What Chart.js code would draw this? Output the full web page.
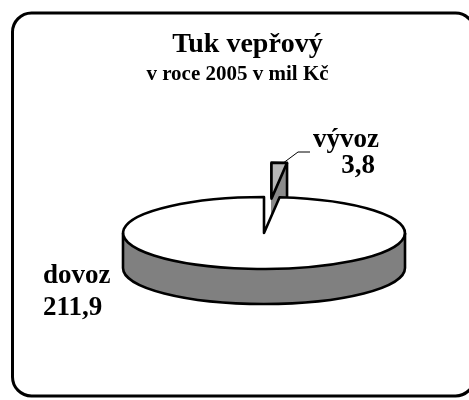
<!DOCTYPE html>
<html>
<head>
<meta charset="utf-8">
<script src="https://cdn.jsdelivr.net/npm/chart.js@4/dist/chart.umd.min.js"></script>
<style>
body { margin: 0; background: #fff; }
</style>
</head>
<body>
<canvas id="myChart" width="469" height="400"></canvas>
<script>
let categories = ["vývoz", "dovoz"];
let values = [3.8, 211.9];
let titleText = "Tuk vepřový";
let subtitleText = "v roce 2005 v mil Kč";

function fmt(v){
	return v.toFixed(1).replace(".", ",");
}

// elliptical wedge, angles come from the arc chart.js computed
function wedge(ctx, cx, cy, r, k, a0, a1){
	ctx.beginPath();
	ctx.moveTo(cx, cy);
	ctx.ellipse(cx, cy, r, r * k, 0, a0, a1);
	ctx.closePath();
}

const pie3d = {
	id: "pie3d",
	beforeDraw(chart){
		const ctx = chart.ctx;
		ctx.save();
		ctx.fillStyle = "#fff";
		ctx.fillRect(0, 0, chart.width, chart.height);
		ctx.lineWidth = 3;
		ctx.strokeStyle = "#000";
		ctx.beginPath();
		ctx.roundRect(12.5, 13, 462, 383, 19);
		ctx.stroke();
		ctx.restore();
	},
	beforeDatasetsDraw(chart, args, opts){
		const ctx = chart.ctx;
		const meta = chart.getDatasetMeta(0);
		const ds = chart.data.datasets[0];
		const k = opts.tilt, depth = opts.depth;
		ctx.save();
		ctx.lineJoin = "round";
		ctx.strokeStyle = "#000";
		ctx.lineWidth = opts.lineWidth;
		meta.data.forEach((arc, i) => {
			const mid = (arc.startAngle + arc.endAngle) / 2;
			const off = opts.explode[i] || 0;
			const cx = arc.x + Math.cos(mid) * off;
			const cy = arc.y + Math.sin(mid) * off * k;
			const r = arc.outerRadius;
			// side of the slice
			ctx.fillStyle = opts.sideColor[i];
			for(let d = depth; d > 0; d--){
				wedge(ctx, cx, cy + d, r, k, arc.startAngle, arc.endAngle);
				ctx.fill();
			}
			let edges = [];
			[0, 2 * Math.PI, -2 * Math.PI].forEach(s => {
				const f0 = Math.max(arc.startAngle, s), f1 = Math.min(arc.endAngle, s + Math.PI);
				if(f1 > f0){
					ctx.beginPath();
					ctx.ellipse(cx, cy + depth, r, r * k, 0, f0, f1);
					ctx.stroke();
					edges.push(f0, f1);
				}
			});
			if(off > 0) edges.push(arc.startAngle, arc.endAngle);
			edges.forEach(a => {
				const px = cx + Math.cos(a) * r, py = cy + Math.sin(a) * r * k;
				ctx.beginPath();
				ctx.moveTo(px, py);
				ctx.lineTo(px, py + depth);
				ctx.stroke();
			});
			// top face
			wedge(ctx, cx, cy, r, k, arc.startAngle, arc.endAngle);
			ctx.fillStyle = ds.backgroundColor[i];
			ctx.fill();
			ctx.stroke();
			arc.$top = {x: cx + Math.cos(mid) * r, y: cy + Math.sin(mid) * r * k};
		});
		ctx.restore();
		return false;
	},
	afterDraw(chart, args, opts){
		const ctx = chart.ctx;
		const meta = chart.getDatasetMeta(0);
		ctx.save();
		ctx.fillStyle = "#000";
		ctx.textBaseline = "alphabetic";
		ctx.textAlign = "center";
		ctx.font = "bold 28px 'Liberation Serif'";
		ctx.fillText(titleText, 247.5, 52);
		ctx.font = "bold 21px 'Liberation Serif'";
		ctx.fillText(subtitleText, 237.5, 80);

		ctx.font = "bold 27px 'Liberation Serif'";
		meta.data.forEach((arc, i) => {
			const p = opts.labels[i];
			ctx.textAlign = p.align;
			ctx.fillText(categories[i], p.x, p.y);
			ctx.fillText(fmt(values[i]), p.vx, p.vy);
			if(p.leader){
				ctx.lineWidth = 1;
				ctx.strokeStyle = "#000";
				ctx.beginPath();
				ctx.moveTo(arc.$top.x + 3, arc.$top.y + 1);
				p.leader.forEach(pt => ctx.lineTo(pt[0], pt[1]));
				ctx.stroke();
			}
		});
		ctx.restore();
	}
};

let chart = new Chart("myChart", {
	type: "pie",
	data: {
		labels: categories,
		datasets: [{
			data: values,
			backgroundColor: ["#b8b8b8", "#ffffff"],
			borderWidth: 0,
			hoverBorderWidth: 0
		}]
	},
	options: {
		responsive: false,
		animation: false,
		events: [],
		layout: { padding: { left: 123, right: 64, top: 92, bottom: 26 } },
		plugins: {
			legend: { display: false },
			tooltip: { enabled: false },
			pie3d: {
				tilt: 0.255,
				depth: 35,
				lineWidth: 2.6,
				explode: [135, 0],
				sideColor: ["#8c8c8c", "#808080"],
				labels: [
					{ x: 346, y: 147, vx: 358, vy: 173, align: "center", leader: [[298, 152], [310, 152]] },
					{ x: 43, y: 283, vx: 43, vy: 315, align: "left" }
				]
			}
		}
	},
	plugins: [pie3d]
});
</script>
</body>
</html>
